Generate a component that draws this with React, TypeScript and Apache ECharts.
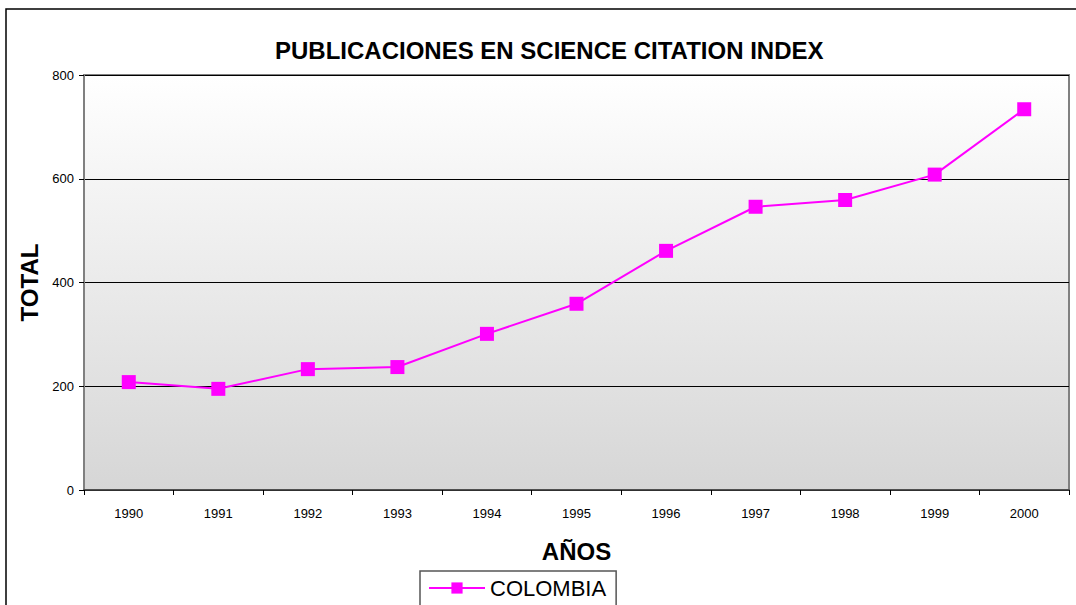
import React, { useEffect, useRef } from "react";
import * as echarts from "echarts";

const years = ["1990", "1991", "1992", "1993", "1994", "1995", "1996", "1997", "1998", "1999", "2000"];
const colombia = [208, 195, 233, 237, 301, 359, 461, 546, 559, 608, 734];
const seriesName = "COLOMBIA";
const titleText = "PUBLICACIONES EN SCIENCE CITATION INDEX";
const yName = "TOTAL";
const xName = "AÑOS";

export default function App() {
  const ref = useRef<HTMLDivElement>(null);
  useEffect(() => {
    document.body.style.margin = "0";
    const chart = echarts.init(ref.current!, null, { renderer: "svg" });
    const font = "'Liberation Sans', Arial, sans-serif";
    chart.setOption({
      animation: false,
      backgroundColor: "#ffffff",
      title: {
        text: titleText,
        left: 270,
        top: 33,
        textStyle: { fontFamily: font, fontSize: 24, fontWeight: "bold", color: "#000" },
      },
      graphic: [
        {
          type: "rect",
          shape: { x: 6, y: 9, width: 1200, height: 800 },
          style: { fill: "none", stroke: "#000", lineWidth: 1.5 },
          silent: true,
          z: -10,
        },
      ],
      legend: {
        data: [seriesName],
        left: 420,
        top: 571,
        padding: [6, 10, 12, 8],
        itemWidth: 56,
        itemHeight: 14,
        itemGap: 6,
        borderColor: "#555",
        borderWidth: 1.5,
        borderRadius: 0,
        textStyle: { fontFamily: font, fontSize: 22, color: "#000" },
      },
      grid: {
        left: 84,
        top: 75,
        right: 7,
        bottom: 115,
        show: true,
        backgroundColor: {
          type: "linear",
          x: 0, y: 0, x2: 0, y2: 1,
          colorStops: [
            { offset: 0, color: "#ffffff" },
            { offset: 1, color: "#d6d6d6" },
          ],
        },
        borderColor: "#808080",
        borderWidth: 2,
      },
      xAxis: {
        type: "category",
        data: years,
        boundaryGap: true,
        name: xName,
        nameLocation: "middle",
        nameGap: 49,
        nameTextStyle: { fontFamily: font, fontSize: 24, fontWeight: "bold", color: "#000" },
        axisLine: { lineStyle: { color: "#404040", width: 1.5 } },
        axisTick: { show: true, inside: false, length: 5, alignWithLabel: false, lineStyle: { color: "#000" } },
        axisLabel: { fontFamily: font, fontSize: 13, color: "#000", margin: 17 },
      },
      yAxis: {
        type: "value",
        min: 0,
        max: 800,
        interval: 200,
        name: yName,
        nameLocation: "middle",
        nameGap: 43,
        nameRotate: 90,
        nameTextStyle: { fontFamily: font, fontSize: 24, fontWeight: "bold", color: "#000" },
        axisLine: { show: true, lineStyle: { color: "#808080", width: 2 } },
        axisTick: { show: true, length: 5, lineStyle: { color: "#000" } },
        axisLabel: { fontFamily: font, fontSize: 13, color: "#000", margin: 10 },
        splitLine: { show: true, lineStyle: { color: "#000", width: 1 } },
      },
      series: [
        {
          name: seriesName,
          type: "line",
          data: colombia,
          symbol: "rect",
          symbolSize: 14,
          itemStyle: { color: "#ff00ff" },
          lineStyle: { color: "#ff00ff", width: 2 },
        },
      ],
    });
    return () => chart.dispose();
  }, []);
  return <div ref={ref} style={{ width: 1076, height: 605 }} />;
}
